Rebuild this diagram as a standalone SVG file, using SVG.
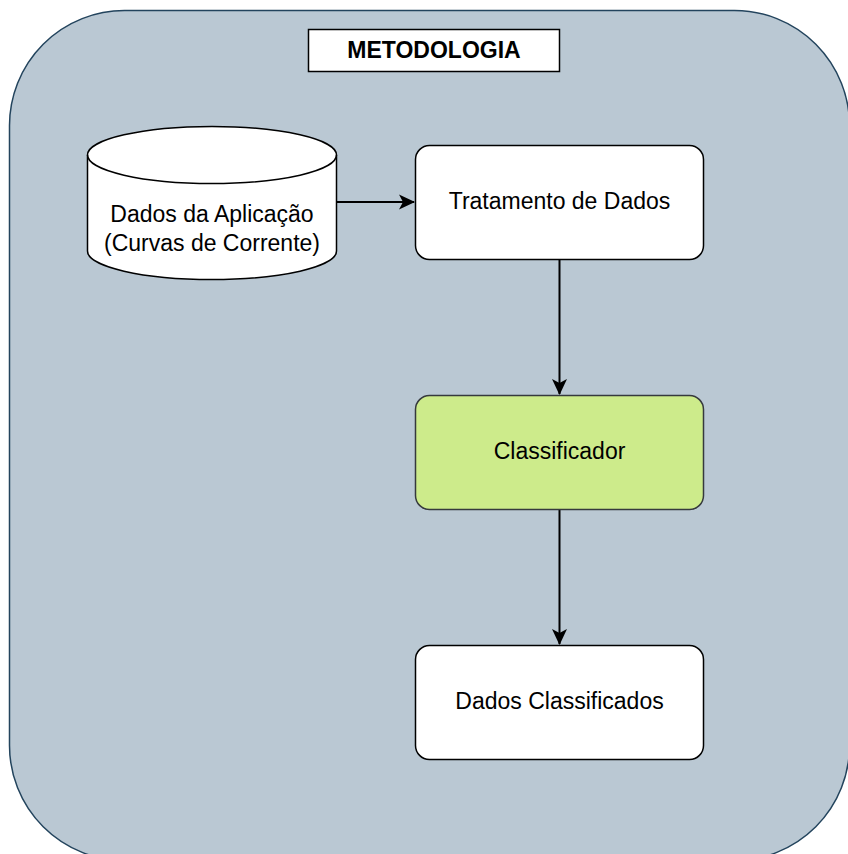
<svg xmlns="http://www.w3.org/2000/svg" width="848" height="854" viewBox="0 0 848 854">
  <style>
    .lbl { font-family: "Liberation Sans", Arial, sans-serif; font-size: 23px; fill: #000; text-anchor: middle; }
    .title { font-weight: bold; }
    .box { fill: #ffffff; stroke: #000; stroke-width: 1.5; }
    .edge { fill: none; stroke: #000; stroke-width: 2; }
  </style>
  <defs>
    <marker id="arrow" viewBox="0 0 16 16" refX="15" refY="8" markerWidth="16" markerHeight="16" markerUnits="userSpaceOnUse" orient="auto">
      <path d="M0,0.5 L16,8 L0,15.5 L4,8 Z" fill="#000"/>
    </marker>
  </defs>
  <rect width="848" height="854" fill="#ffffff"/>

  <!-- container -->
  <g id="metodologia-container">
    <rect x="9.5" y="10.5" width="840" height="850" rx="115" ry="115" fill="#bac8d3" stroke="#23445d" stroke-width="1.5"/>
  </g>

  <g id="title">
    <rect x="308.5" y="29.5" width="251" height="42" fill="#ffffff" stroke="#000" stroke-width="1.5"/>
    <text class="lbl title" x="434" y="58">METODOLOGIA</text>
  </g>

  <!-- connectors -->
  <g id="connectors">
    <line class="edge" x1="337" y1="202" x2="414" y2="202" marker-end="url(#arrow)"/>
    <line class="edge" x1="559.5" y1="260" x2="559.5" y2="394" marker-end="url(#arrow)"/>
    <line class="edge" x1="559.5" y1="510" x2="559.5" y2="644" marker-end="url(#arrow)"/>
  </g>

  <g id="dados-aplicacao">
    <path class="box" d="M87.5,155 A124.5,28.5 0 0 1 336.5,155 L336.5,251 A124.5,28.5 0 0 1 87.5,251 Z"/>
    <path class="box" style="fill:none" d="M87.5,155 A124.5,28.5 0 0 0 336.5,155"/>
    <text class="lbl" x="212" y="222">Dados da Aplicação</text>
    <text class="lbl" x="212" y="251">(Curvas de Corrente)</text>
  </g>

  <g id="tratamento">
    <rect class="box" x="415.5" y="145.5" width="288" height="114" rx="14" ry="14"/>
    <text class="lbl" x="559.5" y="209">Tratamento de Dados</text>
  </g>

  <g id="classificador">
    <rect x="415.5" y="395.5" width="288" height="114" rx="14" ry="14" fill="#cdeb8b" stroke="#36393d" stroke-width="1.5"/>
    <text class="lbl" x="559.5" y="459">Classificador</text>
  </g>

  <g id="dados-classificados">
    <rect class="box" x="415.5" y="645.5" width="288" height="114" rx="14" ry="14"/>
    <text class="lbl" x="559.5" y="709">Dados Classificados</text>
  </g>
</svg>
